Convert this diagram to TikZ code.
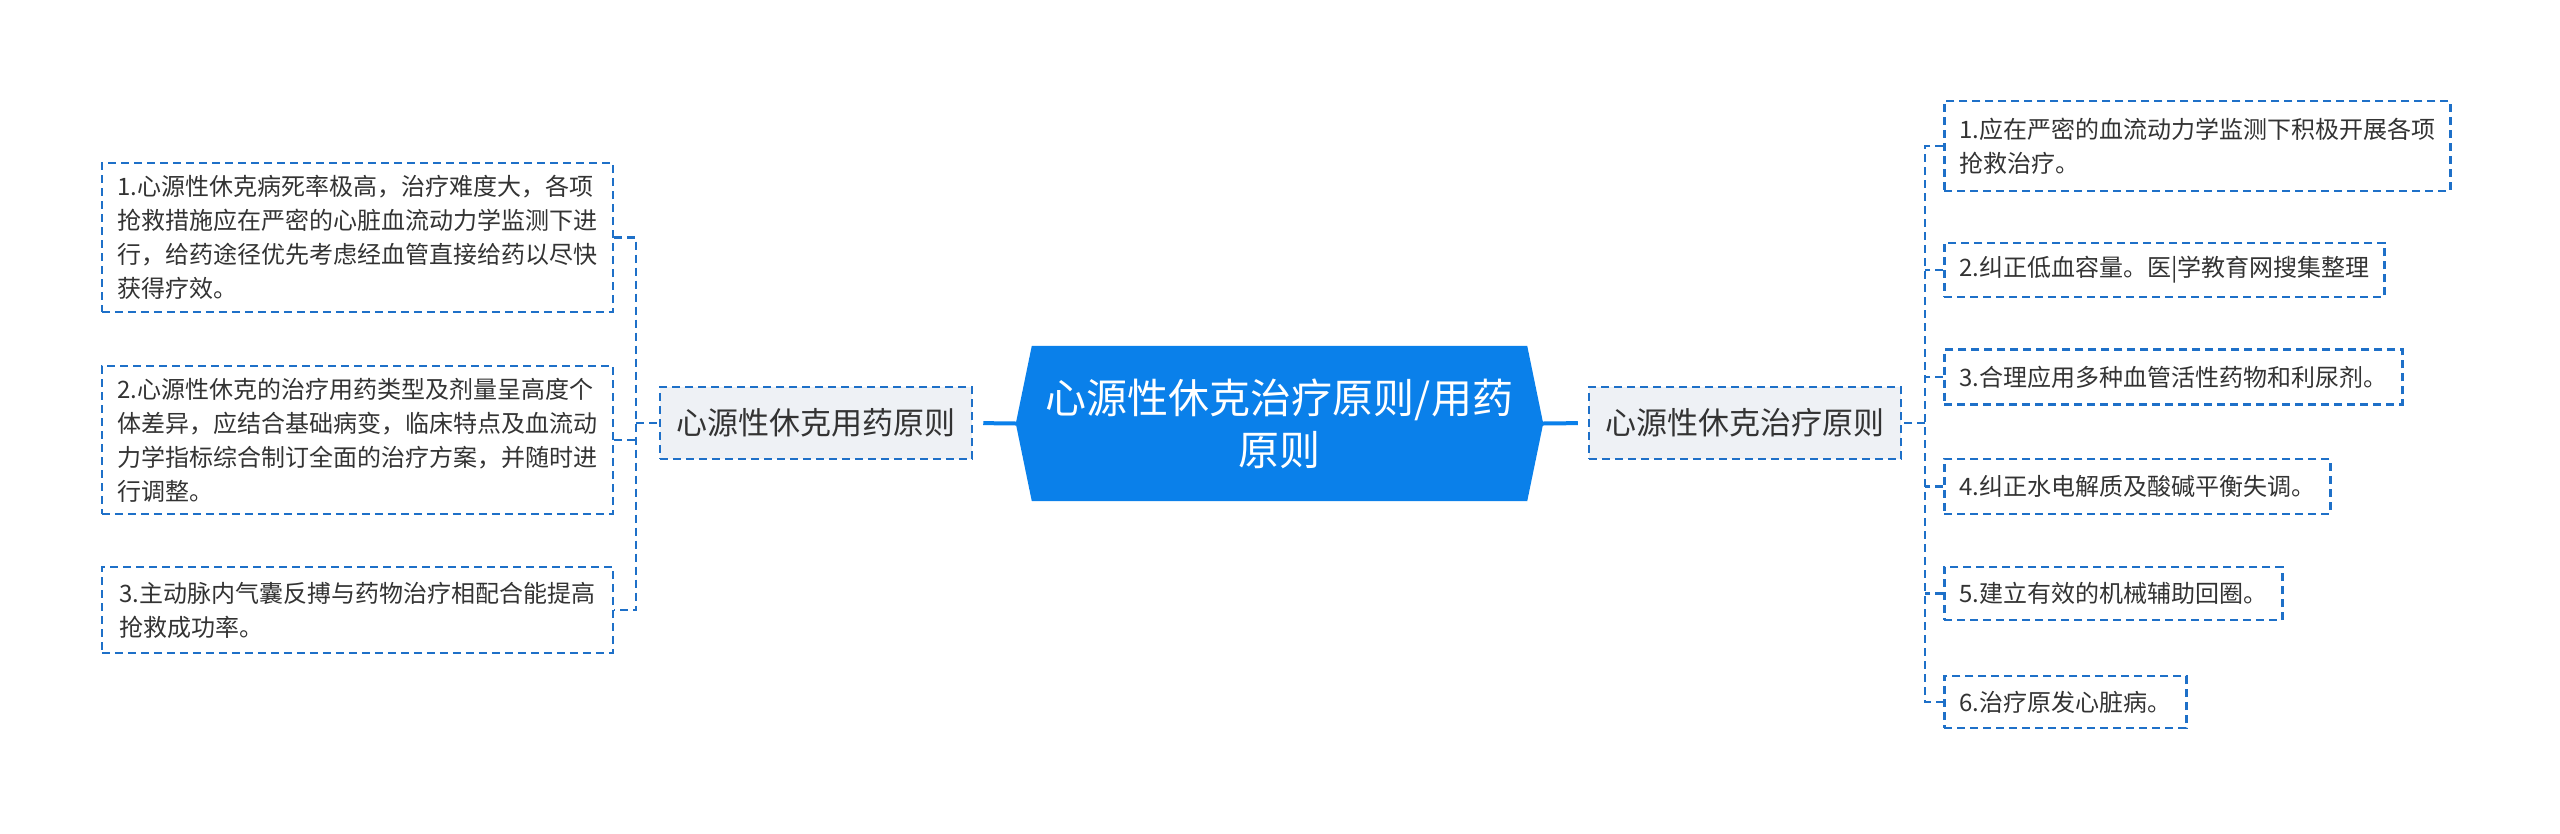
\documentclass[tikz,border=0pt]{standalone}
\usepackage{fontspec}
\setmainfont{Noto Sans CJK SC}
\usetikzlibrary{backgrounds}
\definecolor{cblue}{RGB}{10,128,234}
\definecolor{bblue}{RGB}{30,112,200}
\definecolor{lgray}{RGB}{238,241,245}
\definecolor{txt}{RGB}{51,51,51}
\tikzset{
  dashline/.style={draw=bblue, line width=2.5pt, dash pattern=on 8pt off 5pt},
  branch/.style={dashline, fill=lgray, minimum width=312pt, minimum height=72pt, inner sep=0pt, text=txt, font=\fontsize{31}{36}\selectfont},
  leaf/.style={dashline, align=left, inner xsep=15pt, inner ysep=0pt, text=txt, font=\fontsize{24}{34}\selectfont},
  mainline/.style={draw=cblue, line width=4pt, shorten >=10pt},
  conn/.style={dashline}
}
\begin{document}
\begin{tikzpicture}[x=1pt,y=-1pt]
\useasboundingbox (0,0) rectangle (2560,833);
% center
\node[minimum width=527pt, minimum height=155pt, inner sep=0pt, align=center, text=white, font=\fontsize{41}{52}\selectfont] (c) at (1279.5,423.5) {心源性休克治疗原则/用药\\原则};
\begin{scope}[on background layer]
\fill[cblue] (c.west) -- ([xshift=16pt]c.north west) -- ([xshift=-16pt]c.north east) -- (c.east) -- ([xshift=-16pt]c.south east) -- ([xshift=16pt]c.south west) -- cycle;
\end{scope}
% branches
\node[branch] (lb) at (816,423) {心源性休克用药原则};
\node[branch] (rb) at (1745,423) {心源性休克治疗原则};
% left leaves
\node[leaf, anchor=east, minimum width=511pt, minimum height=149pt] (l1) at (614,237.5) {1.心源性休克病死率极高，治疗难度大，各项\\抢救措施应在严密的心脏血流动力学监测下进\\行，给药途径优先考虑经血管直接给药以尽快\\获得疗效。};
\node[leaf, anchor=east, minimum width=511pt, minimum height=148pt] (l2) at (614,440) {2.心源性休克的治疗用药类型及剂量呈高度个\\体差异，应结合基础病变，临床特点及血流动\\力学指标综合制订全面的治疗方案，并随时进\\行调整。};
\node[leaf, anchor=east, minimum width=511pt, minimum height=86pt] (l3) at (614,610) {3.主动脉内气囊反搏与药物治疗相配合能提高\\抢救成功率。};
% right leaves
\node[leaf, anchor=west, minimum height=90pt] (r1) at (1943,146) {1.应在严密的血流动力学监测下积极开展各项\\抢救治疗。};
\node[leaf, anchor=west, minimum height=54pt] (r2) at (1943,270) {2.纠正低血容量。医|学教育网搜集整理};
\node[leaf, anchor=west, minimum height=55pt] (r3) at (1943,377) {3.合理应用多种血管活性药物和利尿剂。};
\node[leaf, anchor=west, minimum height=55pt] (r4) at (1943,486.5) {4.纠正水电解质及酸碱平衡失调。};
\node[leaf, anchor=west, minimum height=53pt] (r5) at (1943,593.5) {5.建立有效的机械辅助回圈。};
\node[leaf, anchor=west, minimum height=52pt] (r6) at (1943,702) {6.治疗原发心脏病。};
% connectors
\draw[mainline] (c.west) -- (lb.east);
\draw[mainline] (c.east) -- (rb.west);
\coordinate (lbus) at (636,423);
\coordinate (rbus) at (1925,423);
\draw[conn] (l1.east) -| (lbus) |- (l3.east);
\draw[conn] (lbus) -- (lb.west);
\draw[conn] (l2.east) -- (l2.east -| lbus);
\draw[conn] (r1.west) -| (rbus) |- (r6.west);
\draw[conn] (rbus) -- (rb.east);
\draw[conn] (r2.west) -- (r2.west -| rbus);
\draw[conn] (r3.west) -- (r3.west -| rbus);
\draw[conn] (r4.west) -- (r4.west -| rbus);
\draw[conn] (r5.west) -- (r5.west -| rbus);
\end{tikzpicture}
\end{document}
